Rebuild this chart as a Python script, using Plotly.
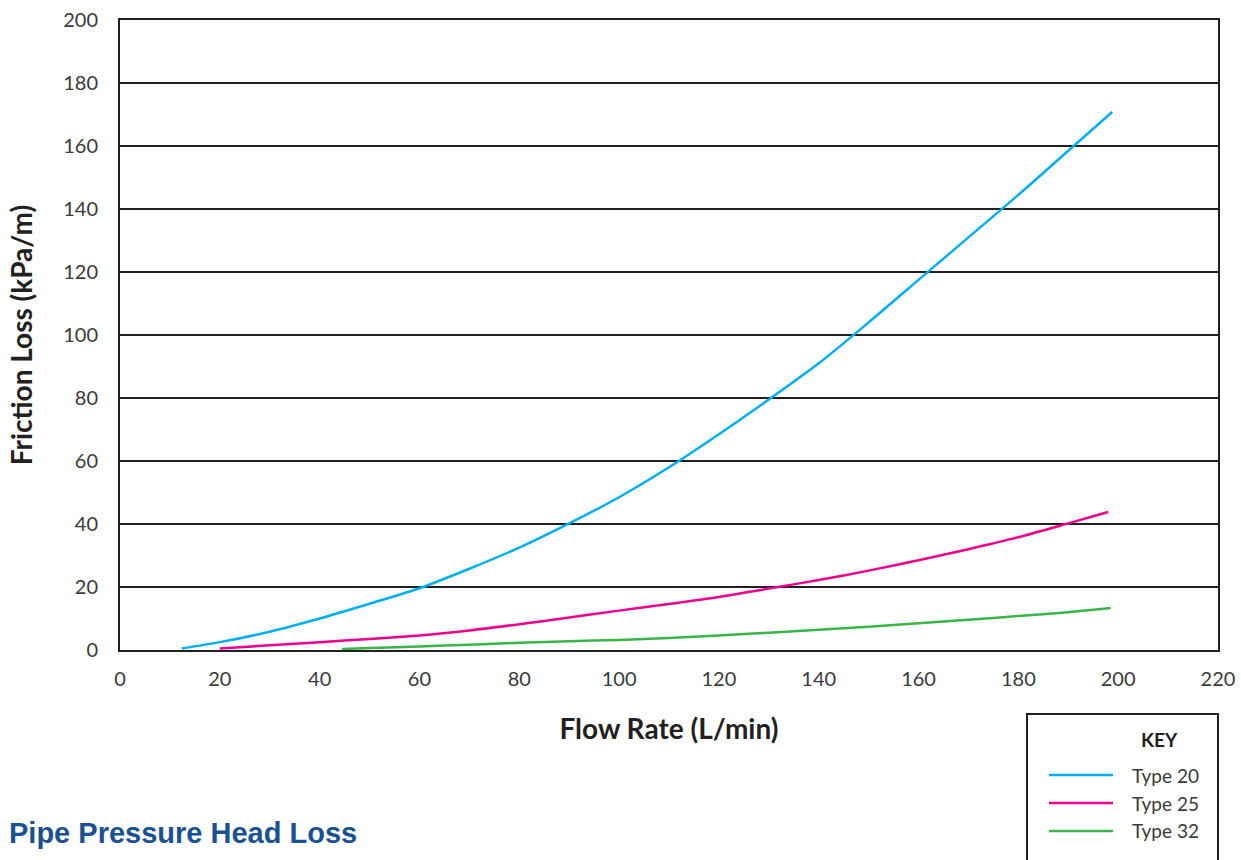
import plotly.graph_objects as go

# Data
flow_20 = [12.4, 20, 30, 40, 50, 60, 70, 80, 90, 100, 110, 120, 130, 140, 150, 160, 170, 180, 190, 198.8]
loss_20 = [0.5, 2.5, 5.8, 10.0, 14.7, 19.6, 25.8, 32.5, 40.2, 48.5, 58.0, 68.5, 79.5, 91.0, 104.0, 117.5, 131.0, 144.5, 158.5, 170.8]

flow_25 = [20, 30, 40, 50, 60, 70, 80, 90, 100, 110, 120, 130, 140, 150, 160, 170, 180, 190, 198]
loss_25 = [0.5, 1.5, 2.5, 3.5, 4.6, 6.2, 8.2, 10.3, 12.5, 14.6, 16.8, 19.5, 22.2, 25.2, 28.5, 32.0, 35.8, 40.2, 43.8]

flow_32 = [44.5, 50, 60, 70, 80, 90, 100, 110, 120, 130, 140, 150, 160, 170, 180, 190, 198.5]
loss_32 = [0.3, 0.6, 1.1, 1.7, 2.3, 2.8, 3.2, 3.8, 4.6, 5.5, 6.4, 7.4, 8.5, 9.6, 10.8, 12.0, 13.3]

series_names = ["Type 20", "Type 25", "Type 32"]
series_colors = ["#00aeef", "#ec008c", "#39b54a"]

x_ticks = [0, 20, 40, 60, 80, 100, 120, 140, 160, 180, 200, 220]
y_ticks = [0, 20, 40, 60, 80, 100, 120, 140, 160, 180, 200]

fig = go.Figure()
for name, xs, ys, col in zip(series_names, [flow_20, flow_25, flow_32],
                             [loss_20, loss_25, loss_32], series_colors):
    fig.add_trace(go.Scatter(x=xs, y=ys, mode="lines", name=name, showlegend=False,
                             line=dict(color=col, width=2.5, shape="spline", smoothing=0.8)))

L, R, T, B = 120, 23, 20, 210
W, H = 1241, 860
pw, ph = W - L - R, H - T - B

def px(p):
    return (p - L) / pw

def py(q):
    return (H - B - q) / ph

tick_font = dict(family="Lato, Open Sans, sans-serif", size=20, color="#3a3a3a")
title_font = dict(family="Lato, Liberation Sans, sans-serif", size=28, color="#231f20")

fig.update_layout(
    width=W, height=H,
    margin=dict(l=L, r=R, t=T, b=B, autoexpand=False),
    paper_bgcolor="white", plot_bgcolor="white",
    showlegend=False,
    xaxis=dict(range=[0, 220], tickvals=x_ticks, ticktext=[str(v) for v in x_ticks],
               showgrid=False, zeroline=False, showline=True, linecolor="#231f20",
               linewidth=2, mirror=True, ticks="", tickfont=tick_font, automargin=False,
               ticklabelstandoff=10,
               title=dict(text="<b>Flow Rate (L/min)</b>", font=title_font, standoff=30)),
    yaxis=dict(range=[0, 200], tickvals=y_ticks, ticktext=[str(v) for v in y_ticks],
               showgrid=True, gridcolor="#231f20", gridwidth=2, zeroline=False,
               showline=True, linecolor="#231f20", linewidth=2, mirror=True, ticks="",
               tickfont=tick_font, ticklabelstandoff=16, automargin=False,
               title=dict(text="<b>Friction Loss (kPa/m)</b>", font=title_font, standoff=22)),
)

# Key box
fig.add_shape(type="rect", xref="paper", yref="paper",
              x0=px(1027), x1=px(1218), y0=py(875), y1=py(714),
              line=dict(color="#231f20", width=2), fillcolor="rgba(0,0,0,0)", layer="above")
fig.add_annotation(text="<b>KEY</b>", xref="paper", yref="paper", x=px(1159), y=py(739),
                   showarrow=False, xanchor="center", yanchor="middle",
                   font=dict(family="Lato, Liberation Sans, sans-serif", size=19, color="#231f20"))
key_rows = [775, 803, 831]
for name, col, row in zip(series_names, series_colors, key_rows):
    fig.add_shape(type="line", xref="paper", yref="paper",
                  x0=px(1049), x1=px(1113), y0=py(row), y1=py(row),
                  line=dict(color=col, width=2.5))
    fig.add_annotation(text=name, xref="paper", yref="paper", x=px(1130), y=py(row),
                       showarrow=False, xanchor="left", yanchor="middle",
                       font=dict(family="Lato, Open Sans, sans-serif", size=19, color="#3a3a3a"))

fig.add_annotation(text="<b>Pipe Pressure Head Loss</b>", xref="paper", yref="paper",
                   x=px(6.5), y=py(833), showarrow=False, xanchor="left", yanchor="middle",
                   font=dict(family="Liberation Sans, Arial, sans-serif", size=29, color="#1a5191"))

fig.write_html("out.html", config={"displayModeBar": False},
               post_script="document.body.style.margin='0';")
